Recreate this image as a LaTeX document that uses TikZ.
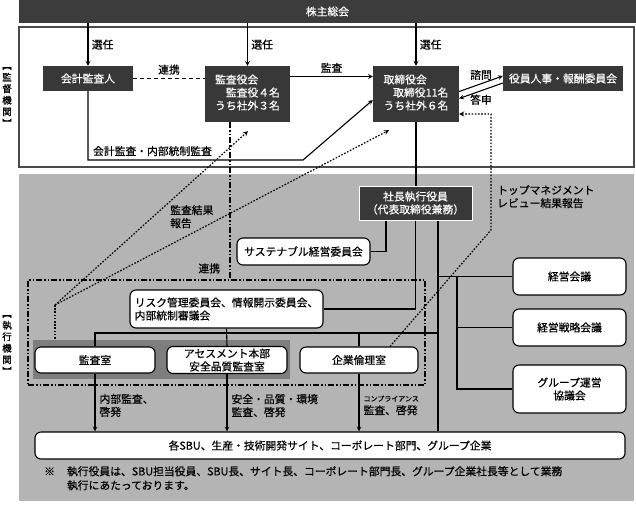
\documentclass[tikz,border=0pt]{standalone}
\usepackage{fontspec}
\setmainfont{Noto Sans CJK JP}[FakeBold=0.5]
\usetikzlibrary{positioning}
\definecolor{bardark}{HTML}{3C3C3C}
\definecolor{boxdark}{HTML}{383838}
\definecolor{execgray}{HTML}{B4B4B4}
\definecolor{bandgray}{HTML}{7E7E7E}
\definecolor{framegray}{HTML}{4A4A4A}

\begin{document}
\begin{tikzpicture}[x=1pt,y=1pt,
  font=\fontsize{10.8}{13}\selectfont,
  darkbox/.style={fill=boxdark,text=white,minimum height=25pt,inner sep=2pt},
  whitebox/.style={draw,fill=white,line width=1.1pt,rounded corners=6pt,minimum height=26pt,inner sep=2pt,align=center},
  lbl/.style={inner sep=0pt,align=left},
  sidelbl/.style={inner sep=0pt,align=center,font=\fontsize{9.5}{11.5}\selectfont},
  chain/.style={line width=1.2pt,dash pattern=on 6pt off 2pt on 1.5pt off 2pt on 1.5pt off 2pt},
  report/.style={line width=1.2pt,dash pattern=on 1.6pt off 1.6pt},
  link/.style={line width=1.1pt}]
  \useasboundingbox (0,0) rectangle (636,-504);

  % areas
  \fill[execgray] (19,-174) rectangle (634,-501);
  \draw[framegray,line width=1.4pt] (19,-27) rectangle (634,-167);
  \node[fill=bardark,text=white,minimum width=617pt,minimum height=23pt,inner sep=0pt] (meeting) at (327.5,-11.5) {株主総会};
  \node[sidelbl] (suplbl) at (7,-97) {︻\\監\\督\\機\\関\\︼};
  \node[sidelbl] (exelbl) at (7,-345) {︻\\執\\行\\機\\関\\︼};

  % supervisory bodies
  \node[darkbox,minimum width=90pt] (auditor) at (88,-78.5) {会計監査人};
  \node[darkbox,minimum width=85pt,minimum height=56pt] (kansa) at (247.5,-94)
    {\begin{tabular}{@{}r@{}}\multicolumn{1}{@{}l@{}}{監査役会}\\監査役４名\\うち社外３名\end{tabular}};
  \node[darkbox,minimum width=86pt,minimum height=56pt] (board) at (416,-94)
    {\begin{tabular}{@{}r@{}}\multicolumn{1}{@{}l@{}}{取締役会}\\取締役11名\\うち社外６名\end{tabular}};
  \node[darkbox,minimum width=120pt] (nomination) at (563,-78.5) {役員人事・報酬委員会};

  \path[link,-stealth]
    (auditor.north |- meeting.south) edge node[right] {選任} (auditor.north)
    (kansa.north |- meeting.south) edge node[right] {選任} (kansa.north)
    (board.north |- meeting.south) edge node[right] {選任} (board.north)
    ([yshift=17.5]kansa.east) edge node[above] {監査} ([yshift=17.5]board.west)
    ([yshift=2.5]board.east) edge node[above] {諮問} ([yshift=2.5]nomination.west)
    ([yshift=-4.5]nomination.west) edge node[below] {答申} ([yshift=-4.5]board.east);
  \draw[dash pattern=on 4pt off 3pt,line width=1.1pt] (auditor.east) -- node[above] {連携} (kansa.west |- auditor.east);
  \coordinate (bend) at (303,-160);
  \draw[link,-stealth] (auditor.south) |- node[above,pos=0.65] {会計監査・内部統制監査} (bend)
    -- ([yshift=-6]board.west);

  % executive bodies
  \node[fill=bandgray,minimum width=257pt,minimum height=39pt,inner sep=0pt] (band) at (161.5,-359.5) {};
  \node[draw,chain,minimum width=397pt,minimum height=105pt] (riskzone) at (226.5,-332.5) {};
  \node[darkbox,draw=white,line width=1pt,minimum width=113pt,minimum height=34pt,align=center] (president) at (415.5,-203)
    {社長執行役員\\（代表取締役兼務）};
  \node[whitebox,minimum width=133pt,minimum height=27pt] (sustain) at (303.5,-251.5) {サステナブル経営委員会};
  \node[whitebox,minimum width=193pt,minimum height=38pt,align=left] (risk) at (226.5,-309)
    {リスク管理委員会、情報開示委員会、\\内部統制審議会};
  \node[whitebox,minimum width=120pt] (audit) at (95,-360) {監査室};
  \node[whitebox,minimum width=120pt] (assess) at (227,-360) {アセスメント本部\\安全品質監査室};
  \node[whitebox,minimum width=118pt] (ethics) at (359,-360) {企業倫理室};
  \node[whitebox,minimum width=113pt,minimum height=37pt] (mgmt) at (569.5,-276.5) {経営会議};
  \node[whitebox,minimum width=113pt,minimum height=37pt] (strategy) at (569.5,-327.5) {経営戦略会議};
  \node[whitebox,minimum width=113pt,minimum height=48pt] (group) at (569.5,-389) {グループ運営\\協議会};
  \node[whitebox,minimum width=590pt,minimum height=27pt] (sbu) at (330,-445.5)
    {各SBU、生産・技術開発サイト、コーポレート部門、グループ企業};

  \draw[link] (board.south) -- (board.south |- president.north);
  \draw[link] ([xshift=-29.5]president.south) |- (sustain.east);
  \draw[link] (president.south) |- (risk.east);
  \coordinate (trunk) at ([xshift=22.5]president.south);
  \draw[link] (trunk) -- (trunk |- sbu.north);
  \draw[link] (trunk |- mgmt.west) -- (mgmt.west);
  \coordinate (fork) at (457,-276.5);
  \draw[link] (fork) |- (group.west);
  \draw[link] (fork |- strategy.west) -- (strategy.west);
  \coordinate (bus) at (0,-333);
  \draw[link] (audit.north) |- (trunk |- bus);
  \draw[link] (ethics.north) -- (ethics.north |- bus);
  \draw[link] (risk.south) -- (assess.north);

  \path[link,-stealth]
    (audit.south) edge node[right,lbl,xshift=4pt,pos=0.55] {内部監査、\\啓発} (audit.south |- sbu.north)
    (assess.south) edge node[right,lbl,xshift=4pt,pos=0.55] {安全・品質・環境\\監査、啓発} (assess.south |- sbu.north)
    (ethics.south) edge node[right,lbl,xshift=4pt,pos=0.55]
      {{\fontsize{7}{8}\selectfont コンプライアンス}\\監査、啓発} (ethics.south |- sbu.north);

  \draw[chain] ([xshift=-17.5]kansa.south) -- node[left=6pt,pos=0.93] {連携} ([xshift=-17.5]kansa.south |- riskzone.north);

  % reports
  \coordinate (jct) at (55,-305);
  \draw[report] (jct) -- (jct |- band.north);
  \draw[report,-stealth] (jct) -- ([shift={(0.5,-9)}]kansa.south);
  \draw[report,-stealth] (jct) -- ([shift={(-27,-8)}]board.south);
  \node[lbl,anchor=north west] (resultlbl) at (170,-205) {監査結果\\報告};
  \coordinate (review) at (491,-230);
  \draw[report,-stealth] ([xshift=31]ethics.north) -- (review) |- ([yshift=-20]board.east);
  \node[lbl,anchor=north west] (reviewlbl) at (497,-185) {トップマネジメント\\レビュー結果報告};

  \node[lbl,anchor=north west] (note) at (44,-466)
    {\begin{tabular}{@{}l@{\hspace{12pt}}l@{}}※ & 執行役員は、SBU担当役員、SBU長、サイト長、コーポレート部門長、グループ企業社長等として業務\\[1pt]
     & 執行にあたっております。\end{tabular}};
\end{tikzpicture}
\end{document}
